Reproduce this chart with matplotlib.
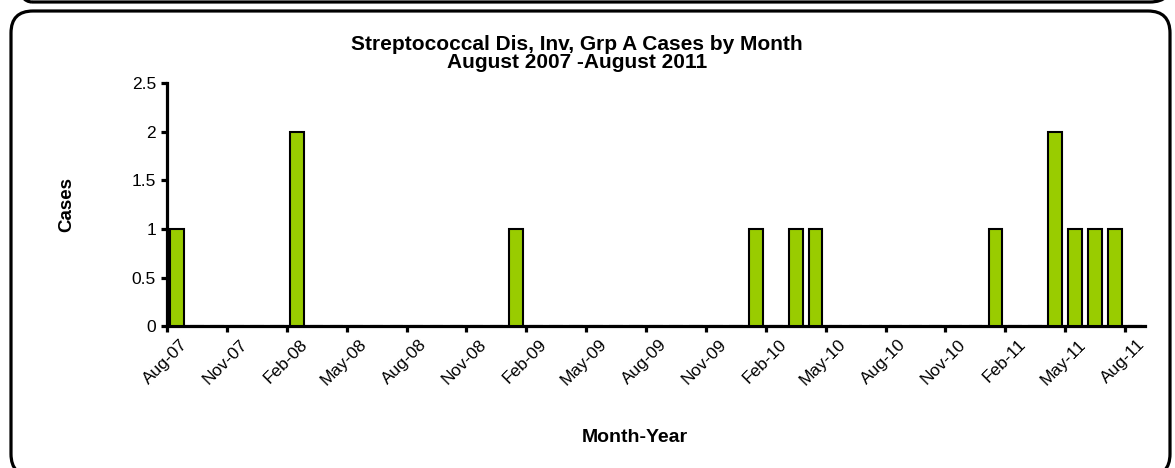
import matplotlib.pyplot as plt
from matplotlib.patches import FancyBboxPatch
from matplotlib.transforms import IdentityTransform, ScaledTranslation

months = ['Aug-07', 'Sep-07', 'Oct-07', 'Nov-07', 'Dec-07', 'Jan-08', 'Feb-08', 'Mar-08',
          'Apr-08', 'May-08', 'Jun-08', 'Jul-08', 'Aug-08', 'Sep-08', 'Oct-08', 'Nov-08',
          'Dec-08', 'Jan-09', 'Feb-09', 'Mar-09', 'Apr-09', 'May-09', 'Jun-09', 'Jul-09',
          'Aug-09', 'Sep-09', 'Oct-09', 'Nov-09', 'Dec-09', 'Jan-10', 'Feb-10', 'Mar-10',
          'Apr-10', 'May-10', 'Jun-10', 'Jul-10', 'Aug-10', 'Sep-10', 'Oct-10', 'Nov-10',
          'Dec-10', 'Jan-11', 'Feb-11', 'Mar-11', 'Apr-11', 'May-11', 'Jun-11', 'Jul-11',
          'Aug-11']
cases = [1, 0, 0, 0, 0, 0, 2, 0,
         0, 0, 0, 0, 0, 0, 0, 0,
         0, 1, 0, 0, 0, 0, 0, 0,
         0, 0, 0, 0, 0, 1, 0, 1,
         1, 0, 0, 0, 0, 0, 0, 0,
         0, 1, 0, 0, 2, 1, 1, 1,
         0]
y_ticks = [0, 0.5, 1, 1.5, 2, 2.5]
y_labels = ['0', '0.5', '1', '1.5', '2', '2.5']

plt.rcParams['font.family'] = ['Liberation Sans', 'DejaVu Sans']

W, H = 1175, 468
fig = plt.figure(figsize=(W / 100, H / 100), dpi=100)

# rounded frames in pixel units (y measured from top)
def frame(x0, y0, x1, y1):
    fig.patches.append(FancyBboxPatch((x0, H - y1), x1 - x0, y1 - y0,
                                      boxstyle='round,pad=0,rounding_size=22',
                                      transform=IdentityTransform(), fill=False,
                                      lw=2.3, ec='black'))

frame(10, -100, 1172, 2)     # bottom of the panel above
frame(11, 11, 1170, 476)     # this panel

ax = fig.add_axes([167 / W, 1 - 326 / H, (1145 - 167) / W, (326 - 83.5) / H])
x = [i + 0.5 for i in range(len(months))]
ax.bar(x, cases, width=0.68, color='#99CC00', edgecolor='black', linewidth=1.5, zorder=3)

for side in ['top', 'right']:
    ax.spines[side].set_visible(False)
for side in ['left', 'bottom']:
    ax.spines[side].set_linewidth(2.3)
ax.tick_params(axis='both', direction='out', width=2.3, length=4, pad=4)

ax.set_xlim(0, len(months))
ax.set_ylim(0, 2.5)
ax.set_yticks(y_ticks)
ax.set_yticklabels(y_labels, fontsize=12.5)
tick_pos = list(range(0, len(months), 3))
ax.set_xticks(tick_pos)
ax.set_xticklabels([months[i] for i in tick_pos], rotation=45, ha='right', va='center',
                   rotation_mode='anchor', fontsize=12.5)
offset = ScaledTranslation(18 / 100, -5 / 100, fig.dpi_scale_trans)
for lbl in ax.get_xticklabels():
    lbl.set_transform(lbl.get_transform() + offset)

fig.text(67 / W, 1 - 205 / H, 'Cases', rotation=90, ha='center', va='center',
         fontsize=13.5, fontweight='bold')
fig.text(635 / W, 1 - 438 / H, 'Month-Year', ha='center', va='center',
         fontsize=14, fontweight='bold')
fig.text(577 / W, 1 - 44 / H, 'Streptococcal Dis, Inv, Grp A Cases by Month',
         ha='center', va='center', fontsize=15, fontweight='bold')
fig.text(577 / W, 1 - 63 / H, 'August 2007 -August 2011',
         ha='center', va='center', fontsize=15, fontweight='bold')

fig.savefig('out.png', dpi=100)
